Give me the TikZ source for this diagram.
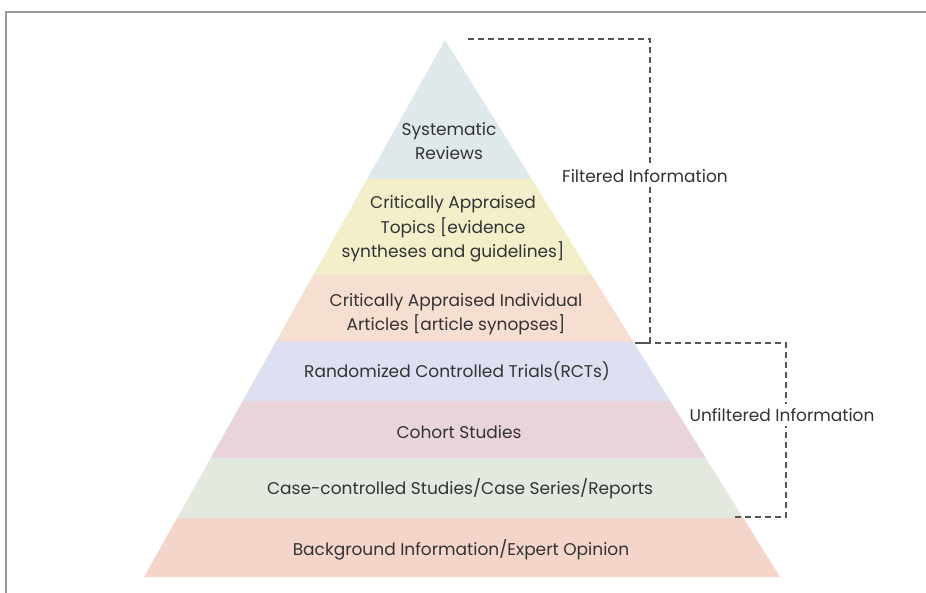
\documentclass[tikz,border=0pt]{standalone}
\usepackage{fontspec}
\setmainfont{Poppins}
\definecolor{txt}{HTML}{333333}
\definecolor{cSys}{HTML}{DFE8EA}
\definecolor{cTop}{HTML}{F3EFCB}
\definecolor{cInd}{HTML}{F6DFD0}
\definecolor{cRct}{HTML}{DCE0F1}
\definecolor{cCoh}{HTML}{E9D4DC}
\definecolor{cCase}{HTML}{E4E9DF}
\definecolor{cBg}{HTML}{F3D6C9}
\definecolor{dash}{HTML}{555555}
\definecolor{frame}{HTML}{999999}
\tikzset{
  lbl/.style={text=txt, align=center, font=\fontsize{17}{24.5}\selectfont, inner sep=0pt},
  side/.style={lbl, fill=white, inner xsep=3pt, inner ysep=4pt},
  brk/.style={draw=dash, line width=1.2pt, dash pattern=on 6pt off 4pt},
}
\begin{document}
\begin{tikzpicture}[x=1pt,y=-1pt]
\useasboundingbox (0,0) rectangle (926,593);
\fill[white] (0,0) rectangle (926,593);
\draw[frame, line width=1.5pt] (6,593) -- (6,12) -- (926,12);
% layers
\fill[cSys]  (445,40) -- (531.7,179) -- (367.1,179) -- cycle;
\fill[cTop]  (367.1,179) -- (531.7,179) -- (591.6,275) -- (313.3,275) -- cycle;
\fill[cInd]  (313.3,275) -- (591.6,275) -- (633.4,342) -- (275.7,342) -- cycle;
\fill[cRct]  (275.7,342) -- (633.4,342) -- (670.3,401) -- (242.7,401) -- cycle;
\fill[cCoh]  (242.7,401) -- (670.3,401) -- (705.8,458) -- (210.7,458) -- cycle;
\fill[cCase] (210.7,458) -- (705.8,458) -- (743.3,518) -- (177.1,518) -- cycle;
\fill[cBg]   (177.1,518) -- (743.3,518) -- (780.1,577) -- (144,577) -- cycle;
% labels
\node[lbl] (sys) at (449,141) {Systematic\\Reviews};
\node[lbl] (top) at (453,229) {Critically Appraised\\Topics [evidence\\syntheses and guidelines]};
\node[lbl] (ind) at (456,314) {Critically Appraised Individual\\Articles [article synopses]};
\node[lbl] (rct) at (457,371) {Randomized Controlled Trials(RCTs)};
\node[lbl] (coh) at (459,432) {Cohort Studies};
\node[lbl] (cas) at (460,489) {Case-controlled Studies/Case Series/Reports};
\node[lbl] (bg)  at (461,550) {Background Information/Expert Opinion};
% brackets
\coordinate (f1) at (468,39);
\coordinate (f2) at (650,39);
\coordinate (f3) at (650,343);
\coordinate (f4) at (635,343);
\coordinate (u1) at (635,343);
\coordinate (u2) at (786,343);
\coordinate (u3) at (786,517);
\coordinate (u4) at (733,517);
\draw[brk] (f1) -- (f2) -- (f3) -- (f4);
\draw[brk] (u1) -- (u2) -- (u3) -- (u4);
\node[side] (filt) at (645,176) {Filtered Information};
\node[side] (unf) at (782,415) {Unfiltered Information};
\end{tikzpicture}
\end{document}
